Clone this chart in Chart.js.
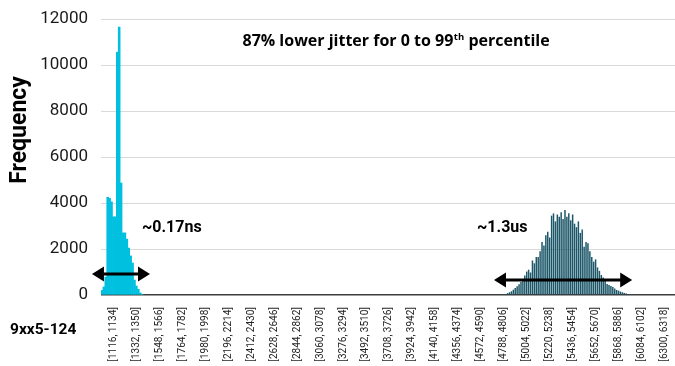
<!DOCTYPE html>
<html>
<head>
<meta charset="utf-8">
<script src="https://cdn.jsdelivr.net/npm/chart.js@4.4.1/dist/chart.umd.min.js"></script>
<style>
  html, body { margin: 0; padding: 0; background: #ffffff; }
  #wrap { width: 675px; height: 366px; position: relative; }
</style>
</head>
<body>
<div id="wrap"><canvas id="c" width="675" height="366"></canvas></div>
<script>
// Histogram bins: lower bound of the first bin, bin width and number of bins
const binStart = 1008;
const binWidth = 18;
const binCount = 300;

// Counts for the narrow cluster, starting at bin [1008, 1026]
const lowJitterFirstBin = 1008;
const lowJitterCounts = [200, 350, 780, 4250, 4200, 4050, 3400, 3400, 10560, 11650, 4870,
  2700, 2700, 2430, 2040, 1700, 1390, 650, 390, 250, 90, 30];

// Counts for the wide cluster, starting at bin [4806, 4824]
const highJitterFirstBin = 4806;
const highJitterCounts = [40, 80, 120, 160, 230, 300, 380, 470, 560, 700, 850, 1020, 1100, 980,
  1500, 1380, 1650, 1650, 1900, 2300, 2150, 2600, 2750, 2500, 3450, 3550, 3200, 3500, 3400,
  3600, 3300, 3700, 3400, 3550, 3250, 3500, 3100, 2950, 3200, 2700, 2850, 2100, 2300, 2250,
  1900, 1650, 1450, 1550, 1200, 1050, 870, 760, 650, 480, 430, 390, 350, 280, 220, 190, 150,
  120, 90, 60, 40, 25, 10];

// Frequency axis ticks
const yTicks = [0, 2000, 4000, 6000, 8000, 10000, 12000];

// Every 12th bin carries a label, beginning with [1116, 1134]
const firstLabelledBin = 1116;
const labelEvery = 12;

// Spread markers (bin-value units) and the frequency level they sit at
const spreadArrows = [
  { from: 914, to: 1460, level: 913 },
  { from: 4696, to: 5996, level: 652 }
];
const spreadNotes = [
  { text: '~0.17ns', at: 1384, level: 2913 },
  { text: '~1.3us', at: 4536, level: 2913 }
];

const binLabels = [];
for (let i = 0; i < binCount; i++) {
  const lo = binStart + i * binWidth;
  binLabels.push('[' + lo + ', ' + (lo + binWidth) + ']');
}
function spread(counts, firstBin) {
  const out = new Array(binCount).fill(null);
  const offset = (firstBin - binStart) / binWidth;
  counts.forEach((v, i) => { out[offset + i] = v; });
  return out;
}
const labelOffset = (firstLabelledBin - binStart) / binWidth;
const toIndex = v => (v - binStart) / binWidth;

const FONT = 'Roboto, "Open Sans", sans-serif';
const WIDE = '"Open Sans", Roboto, sans-serif';

const overlay = {
  id: 'overlay',
  afterDraw(chart) {
    const { ctx, chartArea, scales: { x, y } } = chart;
    ctx.save();
    ctx.fillStyle = '#000';
    ctx.strokeStyle = '#000';

    // double-headed spread arrows
    spreadArrows.forEach(a => {
      const x0 = x.getPixelForValue(toIndex(a.from));
      const x1 = x.getPixelForValue(toIndex(a.to));
      const yy = y.getPixelForValue(a.level);
      const head = 12, half = 7.5;
      ctx.lineWidth = 3;
      ctx.beginPath();
      ctx.moveTo(x0 + head - 1, yy);
      ctx.lineTo(x1 - head + 1, yy);
      ctx.stroke();
      ctx.beginPath();
      ctx.moveTo(x0, yy); ctx.lineTo(x0 + head, yy - half); ctx.lineTo(x0 + head, yy + half); ctx.closePath();
      ctx.fill();
      ctx.beginPath();
      ctx.moveTo(x1, yy); ctx.lineTo(x1 - head, yy - half); ctx.lineTo(x1 - head, yy + half); ctx.closePath();
      ctx.fill();
    });

    // spread notes
    ctx.font = 'bold 16px ' + FONT;
    ctx.textBaseline = 'middle';
    ctx.textAlign = 'left';
    spreadNotes.forEach(n => {
      ctx.fillText(n.text, x.getPixelForValue(toIndex(n.at)), y.getPixelForValue(n.level));
    });

    // headline with superscript
    const main1 = '87% lower jitter for 0 to 99';
    const sup = 'th';
    const main2 = ' percentile';
    ctx.textBaseline = 'alphabetic';
    ctx.font = 'bold 16px ' + WIDE;
    const w1 = ctx.measureText(main1).width;
    const w3 = ctx.measureText(main2).width;
    ctx.font = 'bold 9.5px ' + WIDE;
    const w2 = ctx.measureText(sup).width;
    const total = w1 + w2 + w3 + 0.5;
    const cx = chartArea.left + chartArea.width * 0.514;
    const base = chartArea.top + 27;
    let px = cx - total / 2;
    ctx.font = 'bold 16px ' + WIDE;
    ctx.fillText(main1, px, base);
    px += w1;
    ctx.font = 'bold 9.5px ' + WIDE;
    ctx.fillText(sup, px + 0.5, base - 6.5);
    px += w2 + 0.5;
    ctx.font = 'bold 16px ' + WIDE;
    ctx.fillText(main2, px, base);

    // vertical axis title
    ctx.save();
    ctx.translate(20, chartArea.top + 111);
    ctx.rotate(-Math.PI / 2);
    ctx.font = 'bold 23px ' + FONT;
    ctx.textAlign = 'center';
    ctx.textBaseline = 'middle';
    ctx.fillText('Frequency', 0, 0);
    ctx.restore();

    // system name under the axis
    ctx.font = 'bold 15.5px ' + FONT;
    ctx.textAlign = 'left';
    ctx.textBaseline = 'middle';
    ctx.fillText('9xx5-124', 10, chartArea.bottom + 35);

    ctx.restore();
  }
};

new Chart(document.getElementById('c'), {
  type: 'bar',
  data: {
    labels: binLabels,
    datasets: [
      {
        data: spread(lowJitterCounts, lowJitterFirstBin),
        backgroundColor: '#00c0df',
        borderWidth: 0,
        barPercentage: 1,
        categoryPercentage: 1,
        grouped: false
      },
      {
        data: spread(highJitterCounts, highJitterFirstBin),
        backgroundColor: '#1c5769',
        borderWidth: 0,
        barPercentage: 0.78,
        categoryPercentage: 1,
        grouped: false
      }
    ]
  },
  options: {
    responsive: false,
    animation: false,
    devicePixelRatio: 1,
    layout: { padding: { top: 19, right: 0, bottom: 0, left: 0 } },
    plugins: { legend: { display: false }, tooltip: { enabled: false }, title: { display: false } },
    scales: {
      x: {
        grid: { display: false, drawTicks: false },
        border: { display: false },
        ticks: {
          autoSkip: false,
          minRotation: 90,
          maxRotation: 90,
          padding: 12,
          color: '#222',
          font: { family: FONT, size: 10 },
          callback: (v, i) => ((i - labelOffset) % labelEvery === 0 && i >= labelOffset) ? binLabels[i] : null
        },
        afterFit: s => { s.height = 71; s.paddingLeft = 0; s.paddingRight = 0; }
      },
      y: {
        min: 0,
        max: 12000,
        afterBuildTicks: s => { s.ticks = yTicks.map(v => ({ value: v })); },
        grid: {
          drawTicks: false,
          color: c => c.tick.value === 0 ? '#3c3c3c' : '#d9d9d9',
          lineWidth: c => c.tick.value === 0 ? 1.5 : 1
        },
        border: { display: false },
        ticks: {
          padding: 13,
          color: '#1a1a1a',
          font: { family: FONT, size: 17 },
          callback: v => String(v)
        },
        afterFit: s => { s.width = 101; s.paddingTop = 0; s.paddingBottom = 0; }
      }
    }
  },
  plugins: [overlay]
});
</script>
</body>
</html>
